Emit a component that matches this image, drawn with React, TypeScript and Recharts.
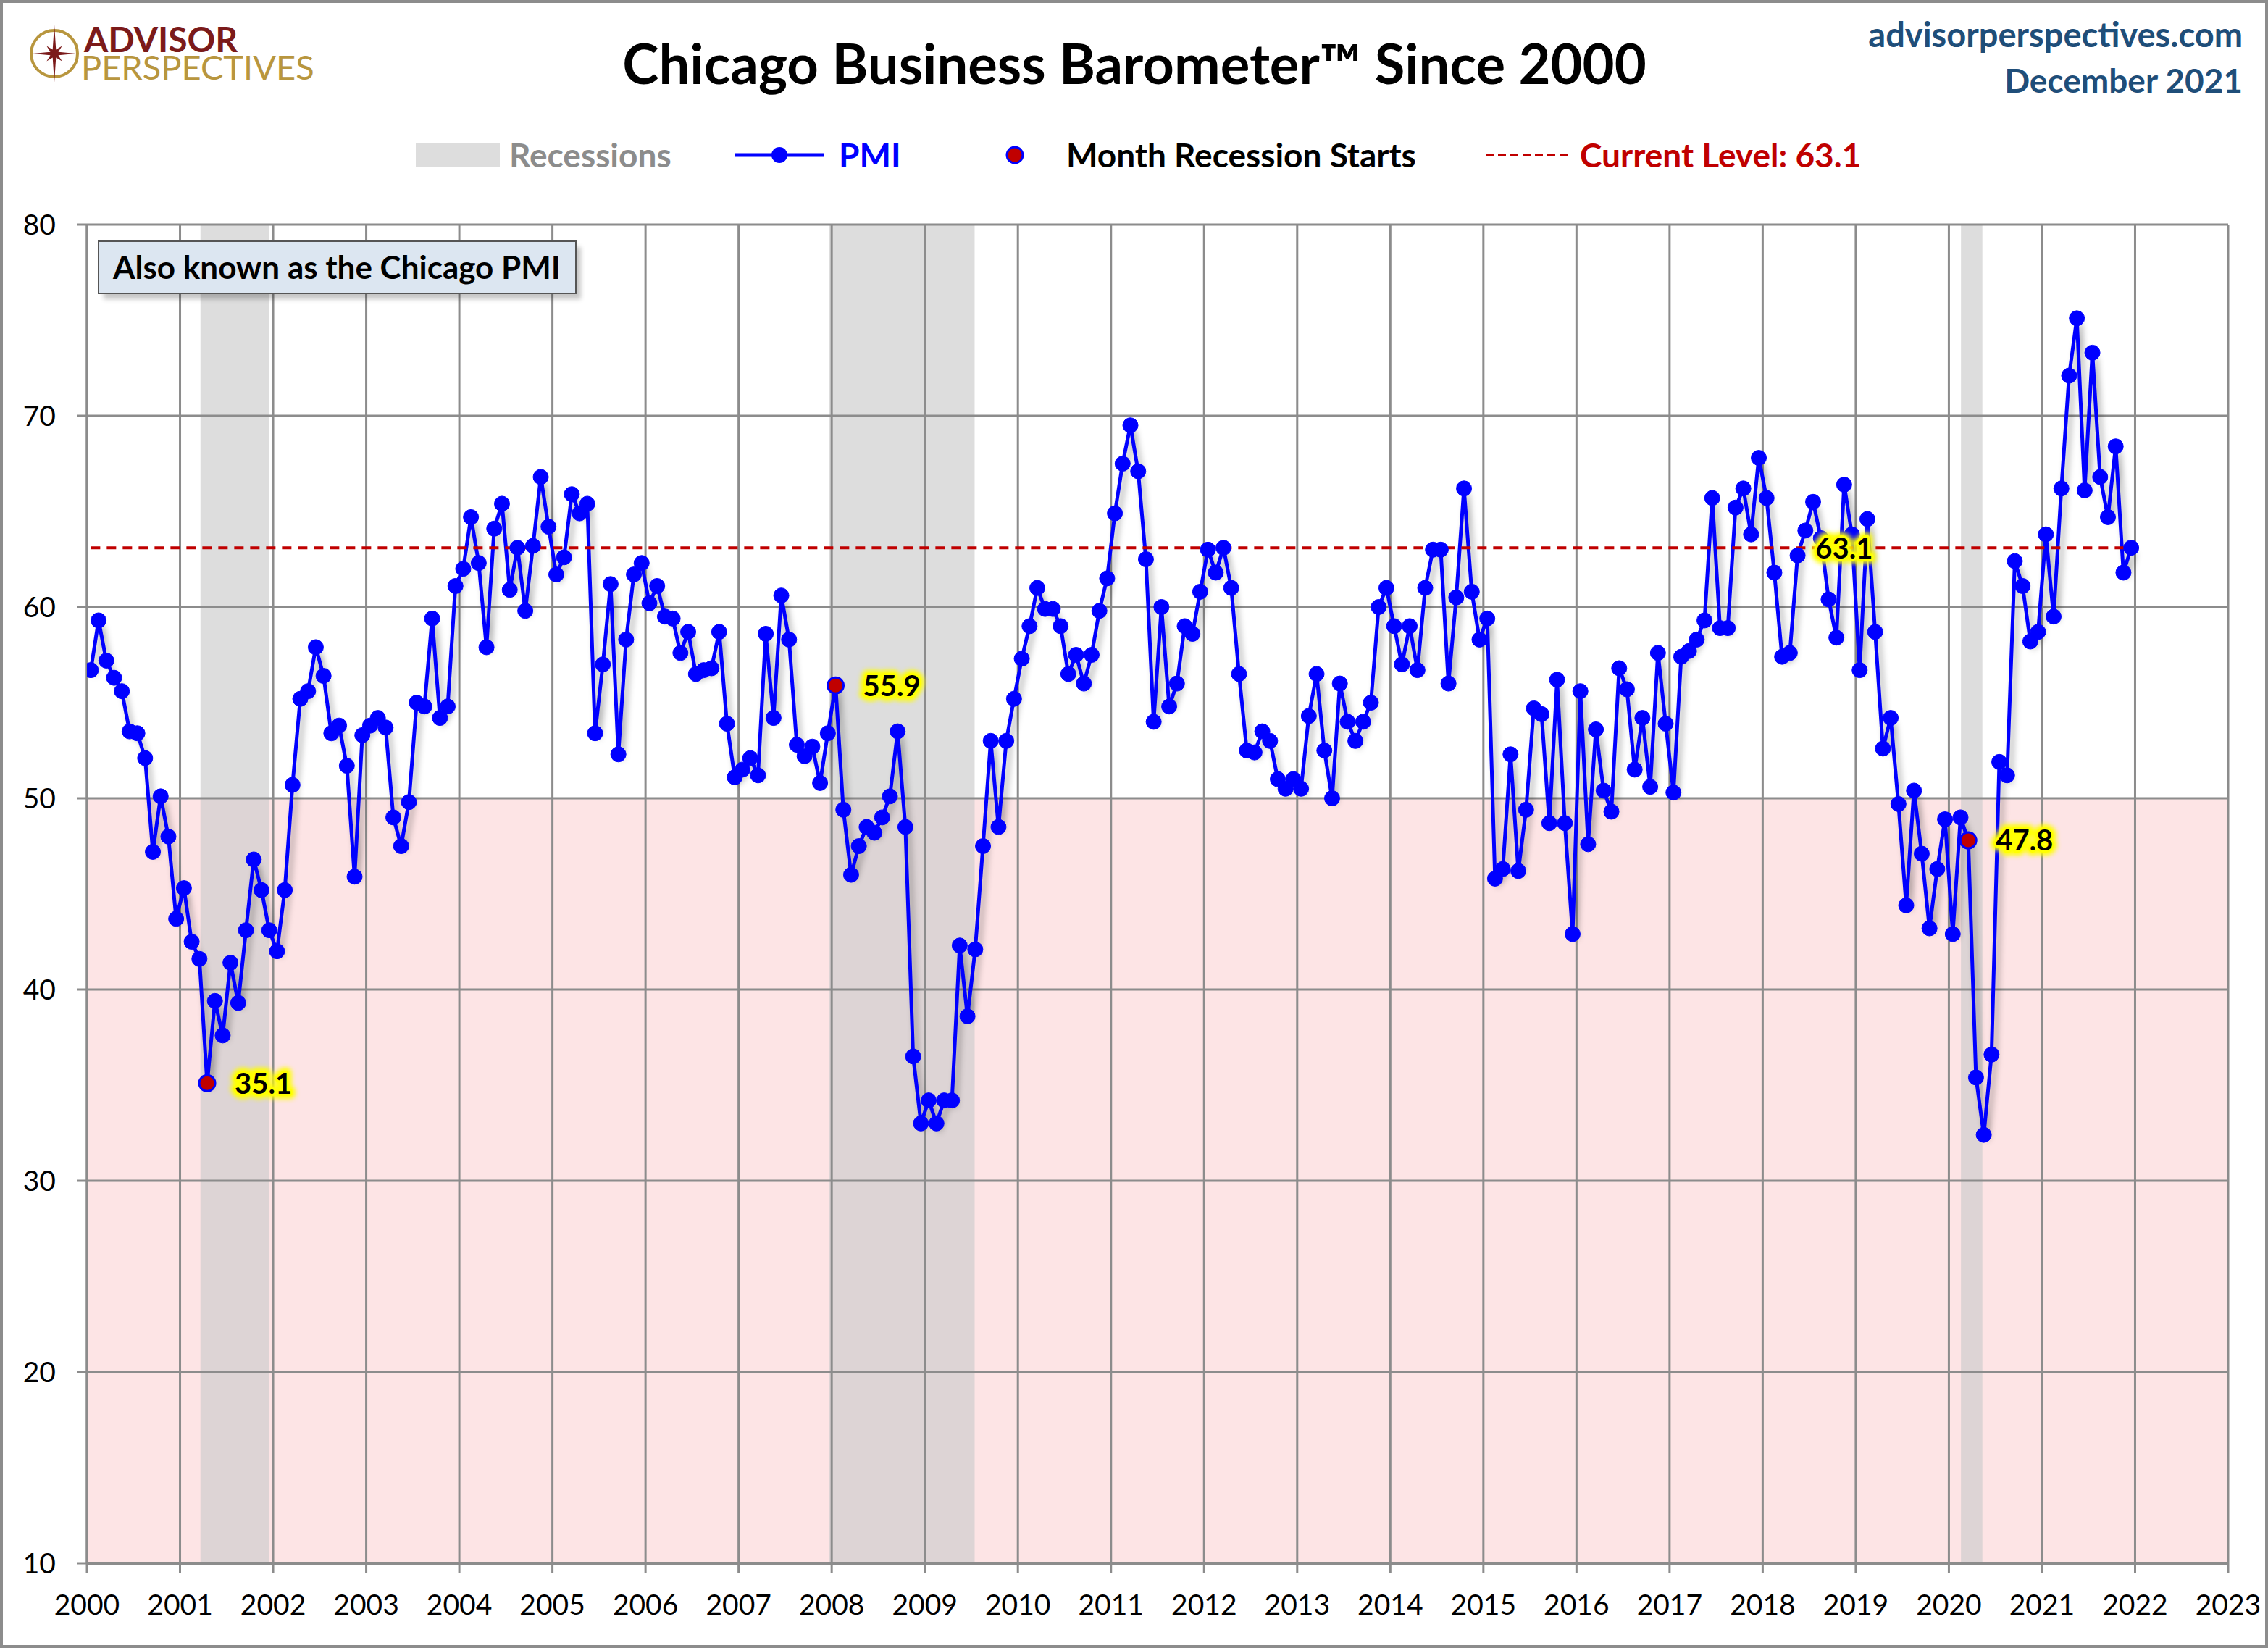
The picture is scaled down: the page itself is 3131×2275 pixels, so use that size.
import React from 'react';
import { LineChart, Line, XAxis, YAxis, ReferenceArea, ReferenceLine } from 'recharts';

// Chicago PMI, monthly
const pmi2000to2003 = [
  56.7, 59.3, 57.2, 56.3, 55.6, 53.5, 53.4, 52.1, 47.2, 50.1, 48.0, 43.7,
  45.3, 42.5, 41.6, 35.1, 39.4, 37.6, 41.4, 39.3, 43.1, 46.8, 45.2, 43.1,
  42.0, 45.2, 50.7, 55.2, 55.6, 57.9, 56.4, 53.4, 53.8, 51.7, 45.9, 53.3,
  53.8, 54.2, 53.7, 49.0, 47.5, 49.8, 55.0, 54.8, 59.4, 54.2, 54.8, 61.1,
];
const pmi2004to2007 = [
  62.0, 64.7, 62.3, 57.9, 64.1, 65.4, 60.9, 63.1, 59.8, 63.2, 66.8, 64.2,
  61.7, 62.6, 65.9, 64.9, 65.4, 53.4, 57.0, 61.2, 52.3, 58.3, 61.7, 62.3,
  60.2, 61.1, 59.5, 59.4, 57.6, 58.7, 56.5, 56.7, 56.8, 58.7, 53.9, 51.1,
  51.5, 52.1, 51.2, 58.6, 54.2, 60.6, 58.3, 52.8, 52.2, 52.7, 50.8, 53.4,
];
const pmi2008to2011 = [
  55.9, 49.4, 46.0, 47.5, 48.5, 48.2, 49.0, 50.1, 53.5, 48.5, 36.5, 33.0,
  34.2, 33.0, 34.2, 34.2, 42.3, 38.6, 42.1, 47.5, 53.0, 48.5, 53.0, 55.2,
  57.3, 59.0, 61.0, 59.9, 59.9, 59.0, 56.5, 57.5, 56.0, 57.5, 59.8, 61.5,
  64.9, 67.5, 69.5, 67.1, 62.5, 54.0, 60.0, 54.8, 56.0, 59.0, 58.6, 60.8,
];
const pmi2012to2015 = [
  63.0, 61.8, 63.1, 61.0, 56.5, 52.5, 52.4, 53.5, 53.0, 51.0, 50.5, 51.0,
  50.5, 54.3, 56.5, 52.5, 50.0, 56.0, 54.0, 53.0, 54.0, 55.0, 60.0, 61.0,
  59.0, 57.0, 59.0, 56.7, 61.0, 63.0, 63.0, 56.0, 60.5, 66.2, 60.8, 58.3,
  59.4, 45.8, 46.3, 52.3, 46.2, 49.4, 54.7, 54.4, 48.7, 56.2, 48.7, 42.9,
];
const pmi2016to2019 = [
  55.6, 47.6, 53.6, 50.4, 49.3, 56.8, 55.7, 51.5, 54.2, 50.6, 57.6, 53.9,
  50.3, 57.4, 57.7, 58.3, 59.3, 65.7, 58.9, 58.9, 65.2, 66.2, 63.8, 67.8,
  65.7, 61.8, 57.4, 57.6, 62.7, 64.0, 65.5, 63.6, 60.4, 58.4, 66.4, 63.8,
  56.7, 64.6, 58.7, 52.6, 54.2, 49.7, 44.4, 50.4, 47.1, 43.2, 46.3, 48.9,
];
const pmi2020to2021 = [
  42.9, 49.0, 47.8, 35.4, 32.4, 36.6, 51.9, 51.2, 62.4, 61.1, 58.2, 58.7,
  63.8, 59.5, 66.2, 72.1, 75.1, 66.1, 73.3, 66.8, 64.7, 68.4, 61.8, 63.1,
];

const firstYear = 2000;
const yearTicks = [
  2000, 2001, 2002, 2003, 2004, 2005, 2006, 2007, 2008, 2009, 2010, 2011,
  2012, 2013, 2014, 2015, 2016, 2017, 2018, 2019, 2020, 2021, 2022, 2023,
];
const valueTicks = [10, 20, 30, 40, 50, 60, 70, 80];
const contractionLevel = 50;

// recession shading (fractional years) and the month marked as its start
const recessionBands = [
  { from: 2001.22, to: 2001.955 },
  { from: 2007.975, to: 2009.535 },
  { from: 2020.13, to: 2020.36 },
];
const recessionStartMonths = ['2001-04', '2008-01', '2020-03'];
const currentTagMonth = '2018-11';

const pmiValues = [
  ...pmi2000to2003, ...pmi2004to2007, ...pmi2008to2011,
  ...pmi2012to2015, ...pmi2016to2019, ...pmi2020to2021,
];
const currentLevel = pmiValues[pmiValues.length - 1];

const rows = pmiValues.map((v, i) => {
  const year = firstYear + Math.floor(i / 12);
  const key = `${year}-${String((i % 12) + 1).padStart(2, '0')}`;
  return {
    t: firstYear + (i + 0.5) / 12,
    pmi: v,
    current: currentLevel,
    start: recessionStartMonths.includes(key) ? v : null,
    tag: key === currentTagMonth ? currentLevel : null,
  };
});

const W = 3131;
const H = 2275;
const FONT = 'Lato, "Open Sans", sans-serif';
const GRID = '#8c8c8c';

const labelFont = { fontFamily: FONT, fontWeight: 700, fontSize: 40 };

// yellow glow behind the value labels
const GlowLabel = ({ x, y, anchor, text }: { x: number; y: number; anchor: string; text: string }) => (
  <g>
    <text
      x={x} y={y} dy="0.36em" textAnchor={anchor}
      style={{ ...labelFont, fill: '#ffff00', stroke: '#ffff00', strokeWidth: 14, strokeLinejoin: 'round', filter: 'blur(3px)' }}
    >
      {text}
    </text>
    <text
      x={x} y={y} dy="0.36em" textAnchor={anchor}
      style={{ ...labelFont, fill: '#000', stroke: '#ffff00', strokeWidth: 6, strokeLinejoin: 'round', paintOrder: 'stroke' }}
    >
      {text}
    </text>
  </g>
);

const StartDot = (p: any) => {
  const { cx, cy, index } = p;
  const value = p.payload?.start;
  if (value == null || cy == null) return <g key={`s${index}`} />;
  return (
    <g key={`s${index}`}>
      <circle cx={cx} cy={cy} r={11} fill="#c00000" stroke="#0000ff" strokeWidth={3} />
      <GlowLabel x={cx + 38} y={cy} anchor="start" text={value.toFixed(1)} />
    </g>
  );
};

const TagDot = (p: any) => {
  const { cx, cy, index } = p;
  const value = p.payload?.tag;
  if (value == null || cy == null) return <g key={`t${index}`} />;
  return (
    <g key={`t${index}`}>
      <GlowLabel x={cx} y={cy} anchor="middle" text={value.toFixed(1)} />
    </g>
  );
};

const XTick = (p: any) => (
  <text x={p.x} y={p.y + 57} textAnchor="middle" fontFamily={FONT} fontSize={39} fill="#000">
    {p.payload.value}
  </text>
);

const YTick = (p: any) => (
  <text x={p.x - 29} y={p.y} dy="0.36em" textAnchor="end" fontFamily={FONT} fontSize={39} fill="#000">
    {p.payload.value}
  </text>
);

const starPoints = (() => {
  const pts: string[] = [];
  for (let k = 0; k < 16; k++) {
    const a = (k * Math.PI) / 8 - Math.PI / 2;
    const r = k % 4 === 0 ? (k % 8 === 0 ? 40 : 30) : k % 2 === 0 ? 15 : 6;
    pts.push(`${75 + r * Math.cos(a)},${74 + r * Math.sin(a)}`);
  }
  return pts.join(' ');
})();

const legendText = { fontFamily: FONT, fontWeight: 700, fontSize: 46 };

const Overlay = () => (
  <svg width={W} height={H} style={{ position: 'absolute', left: 0, top: 0, pointerEvents: 'none' }}>
    <rect x={2} y={2} width={W - 4} height={H - 4} fill="none" stroke={GRID} strokeWidth={4} />

    {/* logo */}
    <circle cx={75} cy={74} r={32} fill="none" stroke="#b8963e" strokeWidth={4} />
    <polygon points={starPoints} fill="#7b1a1a" />
    <text fontFamily={FONT}>
      <tspan x={116} y={72} fontWeight={700} fontSize={48} fill="#7b1a1a">ADVISOR</tspan>
      <tspan x={112} y={110} fontWeight={400} fontSize={47} fill="#b8963e">PERSPECTIVES</tspan>
    </text>

    {/* title and source */}
    <text x={1566} y={116} textAnchor="middle" fontFamily={FONT} fontWeight={700} fontSize={76} fill="#000">
      Chicago Business Barometer™ Since 2000
    </text>
    <text x={3096} y={65} textAnchor="end" fontFamily={FONT} fontWeight={700} fontSize={47} fill="#1f4e79">
      advisorperspectives.com
    </text>
    <text x={3096} y={128} textAnchor="end" fontFamily={FONT} fontWeight={700} fontSize={46} fill="#1f4e79">
      December 2021
    </text>

    {/* legend */}
    <rect x={574} y={198} width={116} height={32} fill="#dddddd" />
    <text x={703} y={214} dy="0.36em" style={legendText} fill="#8c8c8c">Recessions</text>
    <line x1={1014} x2={1138} y1={214} y2={214} stroke="#0000ff" strokeWidth={5} />
    <circle cx={1076} cy={214} r={11} fill="#0000ff" />
    <text x={1158} y={214} dy="0.36em" style={legendText} fill="#0000ff">PMI</text>
    <circle cx={1401} cy={214} r={11} fill="#c00000" stroke="#0000ff" strokeWidth={3} />
    <text x={1472} y={214} dy="0.36em" style={legendText} fill="#000">Month Recession Starts</text>
    <line x1={2051} x2={2167} y1={214} y2={214} stroke="#c00000" strokeWidth={4} strokeDasharray="11 6" />
    <text x={2181} y={214} dy="0.36em" style={legendText} fill="#c00000">
      {`Current Level: ${currentLevel.toFixed(1)}`}
    </text>

    {/* note box */}
    <rect x={143} y={341} width={659} height={72} fill="#000" opacity={0.22} style={{ filter: 'blur(3px)' }} />
    <rect x={136} y={333} width={659} height={72} fill="#dce6f1" stroke="#555" strokeWidth={2} />
    <text x={465} y={369} dy="0.36em" textAnchor="middle" fontFamily={FONT} fontWeight={700} fontSize={44} fill="#000">
      Also known as the Chicago PMI
    </text>
  </svg>
);

export default function App() {
  return (
    <div style={{ position: 'relative', width: W, height: H, background: '#fff', overflow: 'hidden' }}>
      <style>{`html,body{margin:0;overflow:hidden}.pmi-line{filter:drop-shadow(5px 7px 4px rgba(0,0,0,0.32));}`}</style>
      <LineChart width={W} height={H} data={rows} margin={{ top: 310, right: 55, bottom: 17, left: 0 }}>
        <XAxis
          dataKey="t"
          type="number"
          domain={[2000, 2023]}
          ticks={yearTicks}
          interval={0}
          allowDataOverflow
          height={100}
          axisLine={{ stroke: GRID, strokeWidth: 4 }}
          tickLine={{ stroke: GRID, strokeWidth: 3 }}
          tickSize={14}
          tickMargin={0}
          tick={<XTick />}
        />
        <YAxis
          type="number"
          domain={[10, 80]}
          ticks={valueTicks}
          interval={0}
          allowDataOverflow
          width={120}
          axisLine={{ stroke: GRID, strokeWidth: 3 }}
          tickLine={{ stroke: GRID, strokeWidth: 3 }}
          tickSize={14}
          tickMargin={0}
          tick={<YTick />}
        />
        <ReferenceArea x1={2000} x2={2023} y1={10} y2={contractionLevel} fill="#fde4e5" fillOpacity={1} stroke="none" zIndex={-300} />
        {recessionBands.map(b => (
          <ReferenceArea key={b.from} x1={b.from} x2={b.to} y1={10} y2={80} fill="#cccccc" fillOpacity={0.67} stroke="none" zIndex={-250} />
        ))}
        {yearTicks.map(y => (
          <ReferenceLine key={`gx${y}`} x={y} stroke={GRID} strokeWidth={3} zIndex={-200} />
        ))}
        {valueTicks.map(v => (
          <ReferenceLine key={`gy${v}`} y={v} stroke={GRID} strokeWidth={3} zIndex={-200} />
        ))}
        <Line
          className="pmi-line"
          dataKey="pmi"
          stroke="#0000ff"
          strokeWidth={5}
          dot={{ r: 10.5, fill: '#0000ff', stroke: '#0000ff', strokeWidth: 1 }}
          activeDot={false}
          isAnimationActive={false}
        />
        <Line
          dataKey="current"
          stroke="#c00000"
          strokeWidth={4}
          strokeDasharray="13 9"
          dot={false}
          activeDot={false}
          isAnimationActive={false}
        />
        <Line dataKey="start" stroke="none" strokeWidth={0} dot={StartDot} activeDot={false} isAnimationActive={false} />
        <Line dataKey="tag" stroke="none" strokeWidth={0} dot={TagDot} activeDot={false} isAnimationActive={false} />
      </LineChart>
      <Overlay />
    </div>
  );
}
